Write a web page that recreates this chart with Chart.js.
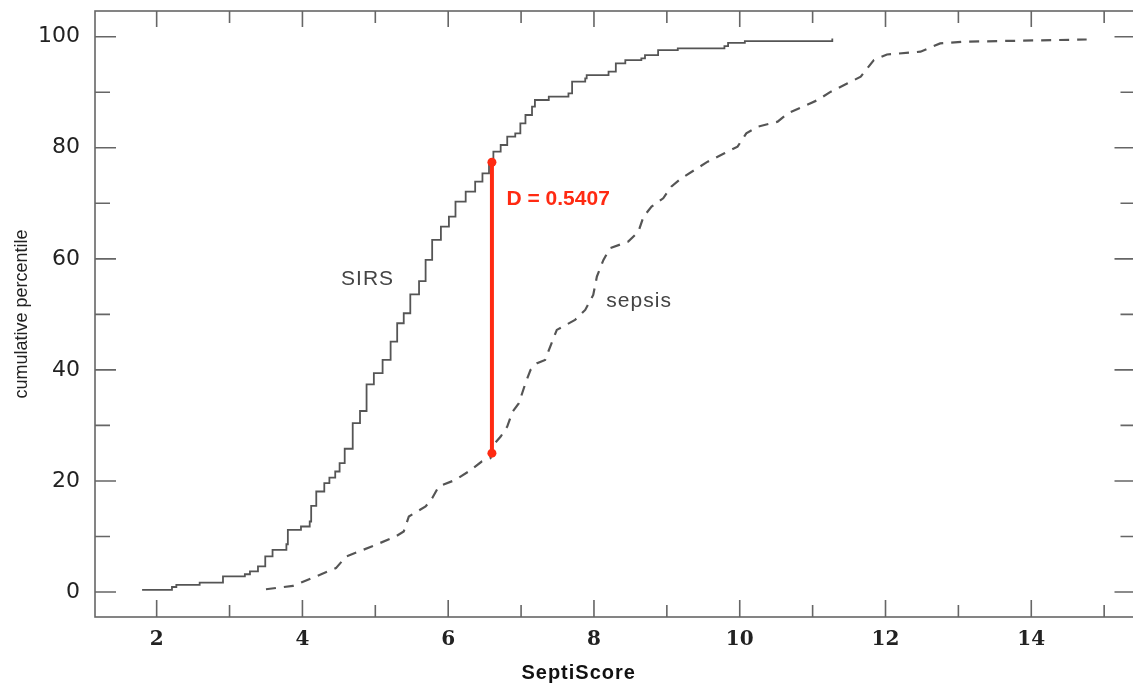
<!DOCTYPE html>
<html>
<head>
<meta charset="utf-8">
<script src="https://cdn.jsdelivr.net/npm/chart.js@4/dist/chart.umd.min.js"></script>
<style>
  html, body { margin: 0; padding: 0; background: #fff; overflow: hidden; }
  #wrap { width: 1140px; height: 686px; }
</style>
</head>
<body>
<div id="wrap"><canvas id="ksChart" width="1140" height="686"></canvas></div>
<script>
// SIRS cumulative curve
const sirsX = [1.80, 2.21, 2.27, 2.59, 2.91, 3.21, 3.28, 3.39, 3.49, 3.59, 3.78, 3.80, 3.98, 4.10, 4.12, 4.19, 4.30, 4.37, 4.45, 4.51,
  4.58, 4.69, 4.79, 4.88, 4.98, 5.10, 5.21, 5.30, 5.39, 5.48, 5.60, 5.69, 5.78, 5.90, 6.01, 6.10, 6.24, 6.37, 6.47, 6.56,
  6.62, 6.72, 6.81, 6.92, 6.99, 7.06, 7.15, 7.19, 7.38, 7.65, 7.70, 7.88, 7.90, 8.20, 8.30, 8.43, 8.65, 8.70, 8.88, 9.15,
  9.79, 9.84, 10.07, 11.27];
const sirsY = [0.4, 0.9, 1.3, 1.7, 2.8, 3.2, 3.7, 4.6, 6.4, 7.6, 8.6, 11.2, 11.8, 12.7, 15.5, 18.1, 19.6, 20.6, 21.7, 23.2,
  25.8, 30.4, 32.6, 37.4, 39.4, 41.8, 45.1, 48.4, 50.2, 53.6, 56.0, 59.8, 63.4, 65.8, 67.6, 70.3, 72.1, 73.9, 75.4, 77.2,
  79.3, 80.5, 82.0, 82.6, 84.4, 85.9, 87.4, 88.6, 89.2, 89.8, 91.9, 92.5, 93.1, 93.7, 95.2, 95.8, 96.1, 96.7, 97.6, 97.9,
  98.3, 98.9, 99.2, 99.7];

// sepsis cumulative curve
const sepsisX = [3.50, 3.87, 4.00, 4.46, 4.60, 4.95, 5.28, 5.39, 5.46, 5.69, 5.78, 5.87, 6.10, 6.28, 6.46, 6.58, 6.62, 6.72, 6.81, 6.88,
  6.97, 7.06, 7.13, 7.22, 7.33, 7.40, 7.49, 7.74, 7.88, 7.99, 8.04, 8.13, 8.22, 8.47, 8.61, 8.68, 8.79, 8.95, 9.06, 9.20,
  9.38, 9.56, 9.79, 9.97, 10.09, 10.25, 10.52, 10.66, 11.07, 11.25, 11.48, 11.66, 11.84, 12.02, 12.48, 12.75, 13.07, 14.76];
const sepsisY = [0.5, 1.1, 1.8, 4.3, 6.4, 8.2, 10.0, 10.9, 13.6, 15.4, 16.9, 19.0, 20.2, 21.7, 23.5, 24.1, 26.5, 28.0, 29.8, 32.4,
  34.0, 37.6, 40.0, 41.2, 41.8, 44.2, 47.2, 49.0, 50.8, 53.5, 56.8, 59.8, 61.9, 63.1, 64.9, 67.6, 69.4, 70.9, 73.0, 74.5,
  76.0, 77.5, 79.0, 80.2, 82.6, 83.8, 84.7, 86.2, 88.6, 90.1, 91.6, 92.8, 95.8, 96.8, 97.3, 98.8, 99.1, 99.5];

// KS distance marker
const dX = [6.6, 6.6];
const dY = [77.4, 25.0];
const dLabel = 'D = 0.5407';

const seriesNames = ['SIRS', 'sepsis'];
const xTitle = 'SeptiScore';
const yTitle = 'cumulative percentile';

function toPoints(xs, ys) {
    return xs.map(function(x, i) { return { x: x, y: ys[i] }; });
}

// 框线和向内的刻度
const frameTicks = {
    id: 'frameTicks',
    beforeDatasetsDraw(chart) {
        const ctx = chart.ctx;
        const a = chart.chartArea;
        const xs = chart.scales.x;
        const ys = chart.scales.y;
        ctx.save();
        ctx.strokeStyle = '#666';
        ctx.lineWidth = 1.6;
        ctx.strokeRect(a.left, a.top, a.right - a.left, a.bottom - a.top);
        ctx.beginPath();
        xs.ticks.forEach(function(t) {
            const px = xs.getPixelForValue(t.value);
            const major = t.value % 2 === 0;
            const lb = major ? 17 : 12;
            const lt = major ? 16 : 12;
            ctx.moveTo(px, a.bottom); ctx.lineTo(px, a.bottom - lb);
            ctx.moveTo(px, a.top); ctx.lineTo(px, a.top + lt);
        });
        ys.ticks.forEach(function(t) {
            const py = ys.getPixelForValue(t.value);
            const len = t.value % 20 === 0 ? 21 : 15;
            ctx.moveTo(a.left, py); ctx.lineTo(a.left + len, py);
            ctx.moveTo(a.right, py); ctx.lineTo(a.right - len, py);
        });
        ctx.stroke();
        ctx.restore();
    },
    afterDraw(chart) {
        const ctx = chart.ctx;
        const xs = chart.scales.x;
        const ys = chart.scales.y;
        ctx.save();
        ctx.textBaseline = 'alphabetic';
        ctx.textAlign = 'left';
        ctx.letterSpacing = '1px';
        ctx.fillStyle = '#444';
        ctx.font = '21px "Liberation Sans", Arial, sans-serif';
        ctx.fillText(seriesNames[0], xs.getPixelForValue(4.53), ys.getPixelForValue(55.3));
        ctx.fillText(seriesNames[1], xs.getPixelForValue(8.17), ys.getPixelForValue(51.3));
        ctx.letterSpacing = '0px';
        ctx.fillStyle = '#ff2a12';
        ctx.font = 'bold 21px "Liberation Sans", Arial, sans-serif';
        ctx.fillText(dLabel, xs.getPixelForValue(6.80), ys.getPixelForValue(69.7));
        ctx.fillStyle = '#111';
        ctx.textAlign = 'center';
        ctx.font = 'bold 20px "Liberation Sans", Arial, sans-serif';
        ctx.letterSpacing = '1px';
        ctx.fillText(xTitle, xs.getPixelForValue(7.79), chart.chartArea.bottom + 62);
        ctx.restore();
    }
};

const ctx = document.getElementById('ksChart').getContext('2d');
new Chart(ctx, {
    type: 'scatter',
    data: {
        datasets: [{
            label: dLabel,
            data: toPoints(dX, dY),
            showLine: true,
            borderColor: '#ff2a12',
            borderWidth: 4,
            pointRadius: 4.5,
            pointBackgroundColor: '#ff2a12',
            pointBorderWidth: 0
        }, {
            label: seriesNames[0],
            data: toPoints(sirsX, sirsY),
            showLine: true,
            stepped: true,
            borderColor: '#555',
            borderWidth: 1.8,
            pointRadius: 0
        }, {
            label: seriesNames[1],
            data: toPoints(sepsisX, sepsisY),
            showLine: true,
            tension: 0,
            borderColor: '#555',
            borderWidth: 2.2,
            borderDash: [10, 8],
            pointRadius: 0
        }]
    },
    options: {
        responsive: false,
        animation: false,
        devicePixelRatio: 1,
        layout: { padding: { left: 0, top: 11, right: 4, bottom: 0 } },
        plugins: {
            legend: { display: false },
            tooltip: { enabled: false }
        },
        scales: {
            x: {
                type: 'linear',
                min: 1.154,
                max: 15.43,
                grid: { display: false, drawTicks: false },
                border: { display: false },
                ticks: {
                    stepSize: 1,
                    includeBounds: false,
                    autoSkip: false,
                    maxRotation: 0,
                    padding: 11,
                    color: '#222',
                    font: { family: '"DejaVu Serif", serif', size: 20, weight: 'bold' },
                    callback: function(v) { return v % 2 === 0 ? String(v) : ''; }
                },
                afterFit: function(scale) {
                    scale.height = 69;
                    scale.paddingLeft = 0;
                    scale.paddingRight = 0;
                }
            },
            y: {
                type: 'linear',
                min: -4.5,
                max: 104.63,
                grid: { display: false, drawTicks: false },
                border: { display: false },
                title: {
                    display: true,
                    text: yTitle,
                    color: '#222',
                    font: { family: '"Liberation Sans", Arial, sans-serif', size: 18 },
                    padding: { top: 11, bottom: 0 }
                },
                ticks: {
                    stepSize: 10,
                    includeBounds: false,
                    autoSkip: false,
                    padding: 15,
                    color: '#222',
                    font: { family: '"DejaVu Sans", sans-serif', size: 22 },
                    callback: function(v) { return v % 20 === 0 ? String(v) : ''; }
                },
                afterFit: function(scale) {
                    scale.width = 95;
                    scale.paddingTop = 0;
                    scale.paddingBottom = 0;
                }
            }
        }
    },
    plugins: [frameTicks]
});
</script>
</body>
</html>
